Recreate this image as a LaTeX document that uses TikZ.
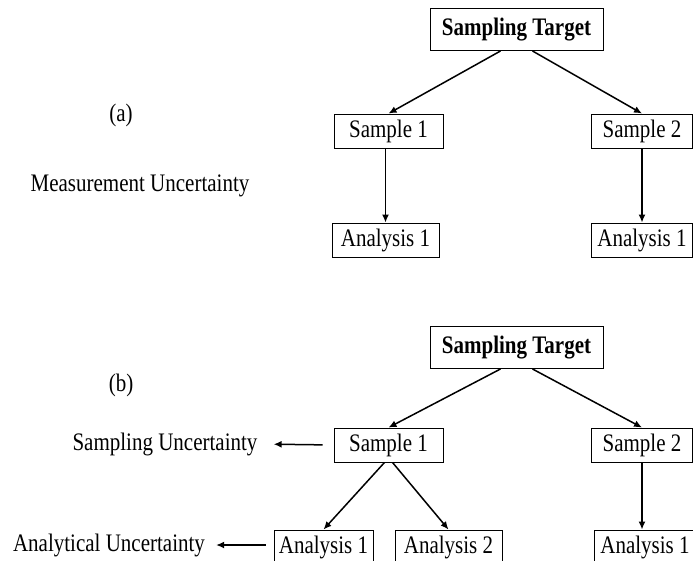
\documentclass[tikz,border=0pt]{standalone}
\usepackage{fontspec}
\setmainfont{Liberation Serif}
\usetikzlibrary{arrows.meta}
\tikzset{
  box/.style={draw, line width=0.8pt, inner sep=0pt, yscale=1.2, transform shape, minimum height=28.3pt, font=\fontsize{21}{25}\selectfont},
  tgt/.style={box, minimum width=173pt, minimum height=35pt, font=\fontsize{21}{25}\selectfont\bfseries},
  lbl/.style={inner sep=0pt, yscale=1.2, transform shape, font=\fontsize{21}{25}\selectfont},
  arr/.style={-{Latex[length=8pt,width=7pt]}, line width=1.5pt}
}
\begin{document}
\begin{tikzpicture}[x=1pt, y=-1pt]
\useasboundingbox (0,0) rectangle (693,560);
% (a)
\node[lbl] (la) at (121,115) {(a)};
\node[lbl] (lmu) at (140,186) {Measurement Uncertainty};
\node[tgt] (ta) at (516.5,29.5) {Sampling Target};
\node[box, minimum width=109pt] (sa1) at (388.5,131) {Sample 1};
\node[box, minimum width=101pt] (sa2) at (642,131) {Sample 2};
\node[box, minimum width=107pt] (aa1) at (385.5,240) {Analysis 1};
\node[box, minimum width=101pt] (aa2) at (642,240) {Analysis 1};
\draw[arr] ([xshift=-16pt]ta.south) -- (sa1.north);
\draw[arr] ([xshift=16pt]ta.south) -- (sa2.north);
\draw[arr] (aa1.north |- sa1.south) -- (aa1.north);
\draw[arr] (sa2.south) -- (aa2.north);
% (b)
\node[lbl] (lb) at (121,385) {(b)};
\node[lbl] (lsu) at (165,444) {Sampling Uncertainty};
\node[lbl] (lau) at (109,545) {Analytical Uncertainty};
\node[tgt] (tb) at (516.5,347.5) {Sampling Target};
\node[box, minimum width=109pt] (sb1) at (388.5,445) {Sample 1};
\node[box, minimum width=101pt] (sb2) at (642,445) {Sample 2};
\node[box, minimum width=99pt] (ab1) at (323.5,547) {Analysis 1};
\node[box, minimum width=107pt] (ab2) at (448.5,547) {Analysis 2};
\node[box, minimum width=101pt] (ab3) at (645,547) {Analysis 1};
\draw[arr] ([xshift=-16pt]tb.south) -- (sb1.north);
\draw[arr] ([xshift=16pt]tb.south) -- (sb2.north);
\draw[arr] ([xshift=-4pt]sb1.south) -- (ab1.north);
\draw[arr] ([xshift=4pt]sb1.south) -- (ab2.north);
\draw[arr] (sb2.south) -- (sb2.south |- ab3.north);
\draw[arr, shorten <=11pt, shorten >=16pt] (sb1.west) -- (lsu.east);
\draw[arr, shorten <=8pt, shorten >=11pt] (ab1.west |- lau.east) -- (lau.east);
\end{tikzpicture}
\end{document}
